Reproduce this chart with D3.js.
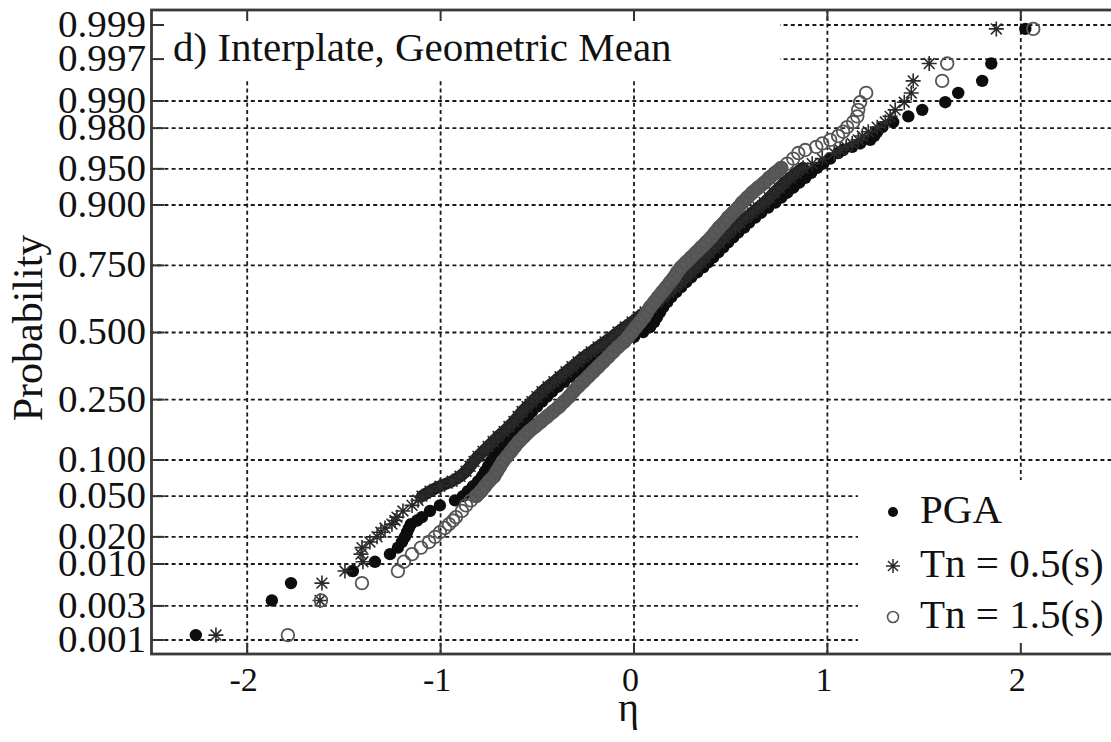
<!DOCTYPE html>
<html>
<head>
<meta charset="utf-8">
<script src="https://cdn.jsdelivr.net/npm/d3@7"></script>
<style>
  html, body { margin: 0; padding: 0; background: #fff; }
  svg { display: block; }
  text { font-family: "Liberation Serif", "Times New Roman", serif; fill: #111; }
</style>
</head>
<body>
<svg id="chart" width="1111" height="742"></svg>
<script>
// Plotting positions (cumulative probability) shared by the three samples:
// lowest ranks, the dense central stretch, then the highest ranks.
const probLevels = [
  0.00116, 0.00349, 0.00581, 0.00814, 0.01047, 0.01279, 0.01512, 0.01744, 0.01977,
  0.02209, 0.02442, 0.02674, 0.02907, 0.0314, 0.03605, 0.0407, 0.04535,
  0.0495, 0.0548, 0.0606, 0.0668, 0.0735, 0.0808, 0.0885, 0.0968, 0.1056, 0.1151,
  0.1251, 0.1357, 0.1469, 0.1587, 0.1711, 0.1841, 0.1977, 0.2119, 0.2266, 0.2420,
  0.2578, 0.2743, 0.2912, 0.3085, 0.3264, 0.3446, 0.3632, 0.3821, 0.4013, 0.4207,
  0.4404, 0.4602, 0.4801, 0.5, 0.5199, 0.5398, 0.5596, 0.5793, 0.5987, 0.6179,
  0.6368, 0.6554, 0.6736, 0.6915, 0.7088, 0.7257, 0.7422, 0.7580, 0.7734, 0.7881,
  0.8023, 0.8159, 0.8289, 0.8413, 0.8531, 0.8643, 0.8749, 0.8849, 0.8944, 0.9032,
  0.9115, 0.9192, 0.9265, 0.9332, 0.9394, 0.9452, 0.9505,
  0.95465, 0.9593, 0.96395, 0.96628, 0.9686, 0.97093, 0.97326, 0.97558, 0.97791,
  0.98023, 0.98256, 0.98488, 0.98721, 0.98953, 0.99186, 0.99419, 0.99651, 0.99884
];

// Residuals (eta) of each intensity measure at those probabilities
const pgaEta = [
  -2.263, -1.870, -1.771, -1.451, -1.337, -1.259, -1.218, -1.197, -1.182,
  -1.171, -1.161, -1.151, -1.119, -1.094, -1.052, -1.001, -0.923,
  -0.882, -0.856, -0.830, -0.804, -0.783, -0.768, -0.752, -0.737, -0.721, -0.700,
  -0.680, -0.654, -0.628, -0.602, -0.581, -0.561, -0.545, -0.525, -0.499, -0.473,
  -0.447, -0.421, -0.390, -0.359, -0.328, -0.297, -0.261, -0.225, -0.183, -0.142,
  -0.100, -0.049, 0.003, 0.050, 0.086, 0.107, 0.122, 0.138, 0.153, 0.174,
  0.195, 0.220, 0.246, 0.272, 0.298, 0.329, 0.360, 0.386, 0.412, 0.438,
  0.464, 0.489, 0.515, 0.541, 0.572, 0.598, 0.629, 0.660, 0.696, 0.733,
  0.764, 0.795, 0.826, 0.857, 0.888, 0.919, 0.950,
  0.981, 1.017, 1.058, 1.084, 1.131, 1.172, 1.224, 1.245, 1.260,
  1.286, 1.343, 1.421, 1.493, 1.612, 1.679, 1.803, 1.850, 2.026
];
const tn05Eta = [
  -2.159, -1.621, -1.611, -1.492, -1.399, -1.409, -1.404, -1.363, -1.326,
  -1.306, -1.285, -1.249, -1.233, -1.223, -1.192, -1.145, -1.114,
  -1.094, -1.052, -1.001, -0.938, -0.897, -0.866, -0.845, -0.825, -0.804, -0.778,
  -0.752, -0.726, -0.700, -0.669, -0.644, -0.618, -0.597, -0.576, -0.550, -0.525,
  -0.499, -0.473, -0.442, -0.411, -0.380, -0.349, -0.318, -0.287, -0.256, -0.219,
  -0.183, -0.147, -0.111, -0.080, -0.043, -0.007, 0.024, 0.060, 0.091, 0.122,
  0.153, 0.184, 0.215, 0.246, 0.272, 0.298, 0.324, 0.350, 0.370, 0.391,
  0.417, 0.443, 0.469, 0.495, 0.526, 0.551, 0.583, 0.614, 0.645, 0.676,
  0.702, 0.727, 0.753, 0.779, 0.810, 0.841, 0.877,
  0.924, 0.976, 1.038, 1.069, 1.100, 1.131, 1.162, 1.183, 1.214,
  1.260, 1.302, 1.327, 1.353, 1.400, 1.436, 1.446, 1.529, 1.876
];
const tn15Eta = [
  -1.787, -1.616, -1.404, -1.218, -1.187, -1.145, -1.099, -1.057, -1.026,
  -1.001, -0.975, -0.954, -0.933, -0.918, -0.887, -0.866, -0.840,
  -0.814, -0.788, -0.768, -0.747, -0.721, -0.706, -0.690, -0.675, -0.654, -0.633,
  -0.613, -0.592, -0.566, -0.540, -0.509, -0.478, -0.447, -0.416, -0.385, -0.359,
  -0.333, -0.312, -0.287, -0.261, -0.235, -0.209, -0.183, -0.157, -0.131, -0.106,
  -0.080, -0.049, -0.028, -0.007, 0.013, 0.034, 0.055, 0.070, 0.086, 0.107,
  0.127, 0.148, 0.169, 0.189, 0.210, 0.226, 0.246, 0.272, 0.298, 0.324,
  0.350, 0.376, 0.401, 0.422, 0.443, 0.469, 0.489, 0.515, 0.541, 0.562,
  0.588, 0.614, 0.645, 0.676, 0.702, 0.733, 0.764,
  0.795, 0.826, 0.852, 0.888, 0.945, 0.976, 1.017, 1.058, 1.084,
  1.105, 1.136, 1.157, 1.162, 1.172, 1.203, 1.596, 1.622, 2.067
];

// Index range of the dense central stretch within probLevels
const denseFrom = 17, denseTo = 84;

const yTickProbs = [0.001, 0.003, 0.01, 0.02, 0.05, 0.1, 0.25, 0.5, 0.75, 0.9, 0.95, 0.98, 0.99, 0.997, 0.999];
const yTickLabels = ["0.001", "0.003", "0.010", "0.020", "0.050", "0.100", "0.250", "0.500",
                     "0.750", "0.900", "0.950", "0.980", "0.990", "0.997", "0.999"];
const xTicks = [-2, -1, 0, 1, 2];
const xTickLabels = ["-2", "-1", "0", "1", "2"];
const seriesNames = ["PGA", "Tn = 0.5(s)", "Tn = 1.5(s)"];
const titleText = "d) Interplate, Geometric Mean";

// Inverse standard normal CDF (Acklam's rational approximation)
function probit(p) {
  const a = [-3.969683028665376e+01, 2.209460984245205e+02, -2.759285104469687e+02,
             1.383577518672690e+02, -3.066479806614716e+01, 2.506628277459239e+00];
  const b = [-5.447609879822406e+01, 1.615858368580409e+02, -1.556989798598866e+02,
             6.680131188771972e+01, -1.328068155288572e+01];
  const c = [-7.784894002430293e-03, -3.223964580411365e-01, -2.400758277161838e+00,
             -2.549732539343734e+00, 4.374664141464968e+00, 2.938163982698783e+00];
  const d = [7.784695709041462e-03, 3.224671290700398e-01, 2.445134137142996e+00,
             3.754408661907416e+00];
  const pl = 0.02425, ph = 1 - pl;
  if (p < pl) {
    const q = Math.sqrt(-2 * Math.log(p));
    return (((((c[0]*q+c[1])*q+c[2])*q+c[3])*q+c[4])*q+c[5]) / ((((d[0]*q+d[1])*q+d[2])*q+d[3])*q+1);
  }
  if (p > ph) {
    const q = Math.sqrt(-2 * Math.log(1 - p));
    return -(((((c[0]*q+c[1])*q+c[2])*q+c[3])*q+c[4])*q+c[5]) / ((((d[0]*q+d[1])*q+d[2])*q+d[3])*q+1);
  }
  const q = p - 0.5, r = q * q;
  return (((((a[0]*r+a[1])*r+a[2])*r+a[3])*r+a[4])*r+a[5])*q /
         (((((b[0]*r+b[1])*r+b[2])*r+b[3])*r+b[4])*r+1);
}

const L = 150, R = 1117, T = 10, B = 654;
const svg = d3.select("#chart");
svg.append("rect").attr("width", 1111).attr("height", 742).attr("fill", "#fff");

const x = d3.scaleLinear().domain([-2.5, 2.5]).range([L, R]);
// normal-probability axis: linear in the standard normal quantile
const y = d3.scaleLinear().domain([-3.236, 3.236]).range([B, T]);
const yp = p => y(probit(p));

// dashed grid
const gridY = svg.append("g").attr("transform", `translate(${L},0)`)
  .call(d3.axisLeft(y).tickValues(yTickProbs.map(probit)).tickSize(-(R - L)).tickFormat(""));
const gridX = svg.append("g").attr("transform", `translate(0,${B})`)
  .call(d3.axisBottom(x).tickValues(xTicks).tickSize(-(B - T)).tickFormat(""));
[gridY, gridX].forEach(g => {
  g.select(".domain").remove();
  g.selectAll("line").attr("stroke", "#1a1a1a").attr("stroke-width", 1.8).attr("stroke-dasharray", "4,3.2");
});

// title and legend panels hide the grid beneath them
svg.append("rect").attr("x", L + 2).attr("y", T + 1).attr("width", 628).attr("height", 67).attr("fill", "#fff");
svg.append("rect").attr("x", 858).attr("y", 480).attr("width", 260).attr("height", B - 481).attr("fill", "#fff");

// short solid tick marks inside the frame
const tickStyle = g => {
  g.select(".domain").remove();
  g.selectAll("line").attr("stroke", "#333").attr("stroke-width", 2);
};
svg.append("g").attr("transform", `translate(${L},0)`)
  .call(d3.axisLeft(y).tickValues(yTickProbs.map(probit)).tickSize(-14).tickFormat("")).call(tickStyle);
svg.append("g").attr("transform", `translate(0,${T})`)
  .call(d3.axisTop(x).tickValues(xTicks).tickSize(-11).tickFormat("")).call(tickStyle);
svg.append("g").attr("transform", `translate(0,${B})`)
  .call(d3.axisBottom(x).tickValues(xTicks).tickSize(-11).tickFormat("")).call(tickStyle);

// frame
svg.append("rect").attr("x", L + 1.5).attr("y", T).attr("width", R - L).attr("height", B - T)
  .attr("fill", "none").attr("stroke", "#3a3a3a").attr("stroke-width", 2.8);

// ----- data -----
const toPoints = etas => etas.map((e, i) => ({ eta: e, p: probLevels[i] }));
const pga = toPoints(pgaEta), tn05 = toPoints(tn05Eta), tn15 = toPoints(tn15Eta);
const dense = pts => pts.slice(denseFrom, denseTo);
const band = d3.line().x(d => x(d.eta)).y(d => yp(d.p)).curve(d3.curveLinear);

const asterisk = a => {
  const k = a * 0.72;
  return `M${-a},0L${a},0M0,${-a}L0,${a}M${-k},${-k}L${k},${k}M${-k},${k}L${k},${-k}`;
};

const plot = svg.append("g");

// PGA: filled circles
plot.append("g").selectAll("circle").data(pga).join("circle")
  .attr("cx", d => x(d.eta)).attr("cy", d => yp(d.p)).attr("r", 6.2).attr("fill", "#0d0d0d");

// Tn = 0.5 s: asterisks (dense stretch merges into a solid band)
plot.append("path").datum(dense(tn05)).attr("d", band)
  .attr("fill", "none").attr("stroke", "#1c1c1c").attr("stroke-width", 12)
  .attr("stroke-linecap", "round").attr("stroke-linejoin", "round");
plot.append("g").selectAll("path").data(tn05).join("path")
  .attr("transform", d => `translate(${x(d.eta)},${yp(d.p)})`)
  .attr("d", asterisk(7.5)).attr("fill", "none").attr("stroke", "#2a2a2a").attr("stroke-width", 1.6);

// Tn = 1.5 s: open circles
plot.append("path").datum(dense(tn15)).attr("d", band)
  .attr("fill", "none").attr("stroke", "#5a5a5a").attr("stroke-width", 14)
  .attr("stroke-linecap", "round").attr("stroke-linejoin", "round");
plot.append("g").selectAll("circle").data(tn15).join("circle")
  .attr("cx", d => x(d.eta)).attr("cy", d => yp(d.p)).attr("r", 6.3)
  .attr("fill", "none").attr("stroke", "#555").attr("stroke-width", 1.8);

// ----- text -----
// probability tick labels: narrow, tall figures
svg.append("g").selectAll("text").data(yTickProbs).join("text")
  .attr("x", 146).attr("y", d => yp(d) + 12.4)
  .attr("text-anchor", "end")
  .style("font-size", "37px")
  .attr("textLength", 88).attr("lengthAdjust", "spacingAndGlyphs")
  .text((d, i) => yTickLabels[i]);

svg.append("g").selectAll("text").data(xTicks).join("text")
  .attr("x", d => x(d) - 3).attr("y", 691).attr("text-anchor", "middle").style("font-size", "34px")
  .text((d, i) => xTickLabels[i]);

svg.append("text").attr("x", x(0) - 5).attr("y", 721).attr("text-anchor", "middle")
  .style("font-size", "40px").text("η");

svg.append("text").attr("transform", `translate(42,${(T + B) / 2 - 4}) rotate(-90)`)
  .attr("text-anchor", "middle").style("font-size", "42px").text("Probability");

svg.append("text").attr("x", 173).attr("y", 61).style("font-size", "41px").text(titleText);

// legend
const legendY = [523, 577, 628];
const lg = svg.append("g");
lg.selectAll("text").data(seriesNames).join("text")
  .attr("x", 920).attr("y", (d, i) => legendY[i]).style("font-size", "41px").text(d => d);
lg.append("circle").attr("cx", 893).attr("cy", legendY[0] - 11).attr("r", 5).attr("fill", "#0d0d0d");
lg.append("path").attr("transform", `translate(893,${legendY[1] - 11})`).attr("d", asterisk(7))
  .attr("fill", "none").attr("stroke", "#2a2a2a").attr("stroke-width", 1.5);
lg.append("circle").attr("cx", 893).attr("cy", legendY[2] - 11).attr("r", 5.5)
  .attr("fill", "none").attr("stroke", "#555").attr("stroke-width", 1.6);
</script>
</body>
</html>
